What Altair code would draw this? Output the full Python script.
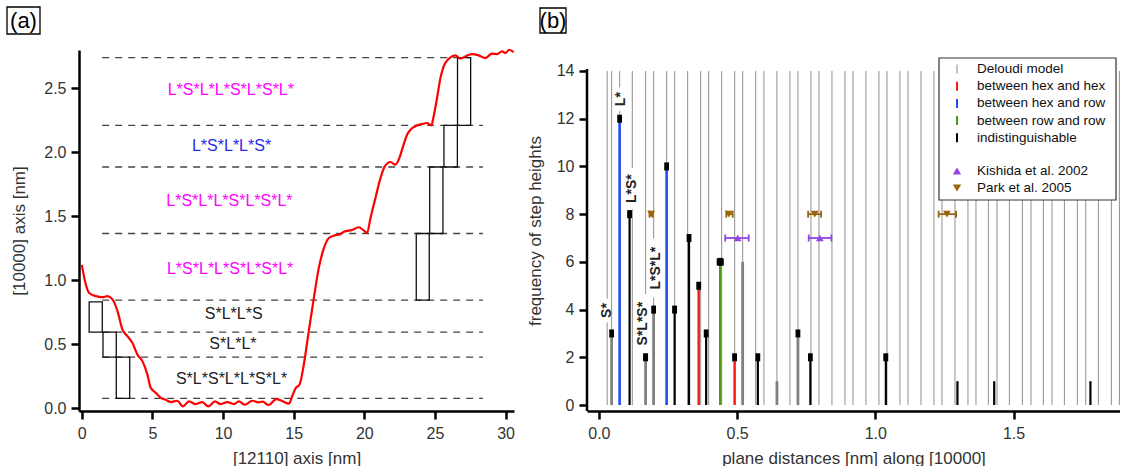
import altair as alt
import pandas as pd

FONT = "Liberation Sans"
TXT = "#333333"

# ---------------- (a) height profile across the terraces ----------------
profile_x = [0.0, 0.23, 0.52, 0.99, 1.46, 1.81, 2.17, 2.52, 2.87, 3.23, 3.58, 3.93, 4.29, 4.64,
             4.88, 5.23, 5.59, 5.94, 6.29, 6.76, 7.16, 7.59, 8.06, 8.53, 8.95, 9.43, 9.83, 10.30,
             10.77, 11.12, 11.55, 12.07, 12.50, 12.80, 13.22, 13.78, 14.19, 14.66, 14.90, 15.13,
             15.42, 15.72, 16.07, 16.43, 16.78, 17.14, 17.49, 17.96, 18.31, 18.55, 19.14, 19.61,
             19.97, 20.20, 20.44, 20.79, 21.15, 21.45, 21.85, 22.20, 22.44, 22.67, 23.03, 23.27,
             23.62, 24.09, 24.44, 24.75, 24.91, 25.15, 25.39, 25.62, 25.98, 26.45, 26.80, 27.16,
             27.62, 28.10, 28.57, 29.04, 29.40, 29.75, 29.99, 30.27, 30.57]
profile_y = [1.12, 0.99, 0.90, 0.875, 0.867, 0.875, 0.85, 0.76, 0.615, 0.562, 0.51, 0.42, 0.367,
             0.263, 0.159, 0.12, 0.08, 0.065, 0.047, 0.057, 0.013, 0.052, 0.031, 0.047, 0.013,
             0.052, 0.031, 0.047, 0.031, 0.052, 0.026, 0.057, 0.045, 0.05, 0.024, 0.07, 0.055,
             0.034, 0.094, 0.154, 0.185, 0.341, 0.602, 0.862, 1.096, 1.25, 1.33, 1.352, 1.36,
             1.378, 1.393, 1.414, 1.388, 1.37, 1.487, 1.643, 1.80, 1.89, 1.924, 1.904, 1.943,
             2.02, 2.138, 2.177, 2.203, 2.221, 2.229, 2.211, 2.281, 2.424, 2.58, 2.672, 2.732,
             2.758, 2.732, 2.75, 2.768, 2.758, 2.737, 2.771, 2.768, 2.789, 2.776, 2.802, 2.784]

# terrace levels (dashed) and their horizontal extent
level_y = [2.74, 2.21, 1.885, 1.365, 0.844, 0.594, 0.398, 0.076]
level_x0 = [1.44, 1.44, 1.44, 1.44, 1.44, 1.44, 1.44, 1.44]
level_x1 = [27.5, 28.4, 28.4, 28.4, 28.4, 28.4, 28.4, 28.4]

# step boxes (staircase of step heights)
box_x1 = [0.52, 1.50, 2.44, 23.68, 24.63, 25.64, 26.60]
box_x2 = [1.45, 2.44, 3.39, 24.60, 25.57, 26.59, 27.53]
box_y1 = [0.594, 0.398, 0.076, 0.844, 1.365, 1.885, 2.21]
box_y2 = [0.830, 0.594, 0.398, 1.365, 1.885, 2.21, 2.74]

# stacking sequences between terraces
seq_text = ["L*S*L*L*S*L*S*L*", "L*S*L*L*S*", "L*S*L*L*S*L*S*L*", "L*S*L*L*S*L*S*L*",
            "S*L*L*S", "S*L*L*", "S*L*S*L*L*S*L*"]
seq_x = [10.55, 10.6, 10.45, 10.5, 10.75, 10.7, 10.6]
seq_y = [2.49, 2.05, 1.617, 1.086, 0.734, 0.50, 0.227]
seq_color = ["#ff00ff", "#2a2ae6", "#ff00ff", "#ff00ff", "#222222", "#222222", "#222222"]

# ---------------- (b) histogram of plane distances ----------------
deloudi_x = [0.030, 0.046, 0.075, 0.121, 0.169, 0.198, 0.245, 0.274, 0.321, 0.368, 0.397, 0.444,
             0.491, 0.520, 0.567, 0.597, 0.644, 0.691, 0.720, 0.767, 0.796, 0.843, 0.890, 0.919,
             0.966, 1.013, 1.042, 1.089, 1.118, 1.165, 1.212, 1.241, 1.288, 1.335, 1.364, 1.409,
             1.440, 1.485, 1.532, 1.563, 1.608, 1.639, 1.684, 1.731, 1.761, 1.807, 1.854, 1.883]
deloudi_top = 14

bar_x = [0.046, 0.075, 0.111, 0.169, 0.198, 0.245, 0.274, 0.326, 0.361, 0.388, 0.439, 0.491,
         0.520, 0.575, 0.644, 0.720, 0.765, 1.038, 1.297, 1.430, 1.778]
bar_n = [3, 12, 8, 2, 4, 10, 4, 7, 5, 3, 6, 2, 6, 2, 1, 3, 2, 2, 1, 1, 1]
bar_kind = ["model", "hex-row", "indist", "model", "model", "hex-row", "indist", "indist",
            "hex-hex", "indist", "row-row", "hex-hex", "model", "indist", "model", "model",
            "indist", "indist", "indist", "indist", "indist"]
bar_err = [0.003, 0.003, 0.003, 0.006, 0.003, 0.003, 0.005, 0.004, 0.003, 0.004, 0.010, 0.004,
           0.0, 0.003, 0.0, 0.004, 0.003, 0.005, 0.0, 0.0, 0.0]

kind_color = {"model": "#808080", "hex-hex": "#ff1a1a", "hex-row": "#1f4ff0",
              "row-row": "#4d9a0c", "indist": "#000000"}
kind_width = {"model": 2.8, "hex-hex": 2.5, "hex-row": 2.6, "row-row": 2.5, "indist": 2.2}

step_text = ["S*", "L*", "L*S*", "S*L*S*", "L*S*L*"]
step_x = [0.028, 0.080, 0.120, 0.158, 0.205]
step_line = [0.030, 0.075, 0.121, 0.169, 0.198]
step_y = [3.96, 12.82, 9.07, 3.41, 5.74]

kishida_x = [0.502, 0.799]
kishida_lo = [0.457, 0.759]
kishida_hi = [0.542, 0.841]
kishida_n = [7, 7]

park_x = [0.189, 0.470, 0.781, 1.259]
park_lo = [0.183, 0.461, 0.757, 1.229]
park_hi = [0.195, 0.484, 0.804, 1.292]
park_n = [8, 8, 8, 8]

legend_text = ["Deloudi model", "between hex and hex", "between hex and row",
               "between row and row", "indistinguishable", "Kishida et al. 2002",
               "Park et al. 2005"]
legend_color = ["#c4c4c4", "#ff1a1a", "#1f4ff0", "#4d9a0c", "#000000", "#9444e6", "#9a6408"]

PURPLE = "#9444e6"
BROWN = "#9a6408"

axis_style = dict(domainColor="black", domainWidth=2.5, tickColor="black", tickWidth=2.5,
                  tickSize=8, labelColor=TXT, titleColor=TXT, labelFont=FONT, titleFont=FONT,
                  labelFontSize=16, titleFontSize=17, titleFontWeight="normal", grid=False,
                  labelFlush=False)

one = pd.DataFrame({"k": [0]})

# ======== panel (a) ========
xa = alt.Scale(domain=[-0.2, 30.6], nice=False, zero=False)
ya = alt.Scale(domain=[-0.023, 2.8], nice=False, zero=False)
xa_axis = alt.Axis(values=[0, 5, 10, 15, 20, 25, 30], format="d", labelPadding=6,
                   titlePadding=9, **axis_style)
ya_axis = alt.Axis(values=[0, 0.5, 1.0, 1.5, 2.0, 2.5], format=".1f", labelPadding=5,
                   titlePadding=15, **axis_style)


def XA(f):
    return alt.X(f, scale=xa, axis=xa_axis, title="[12110] axis [nm]")


def YA(f):
    return alt.Y(f, scale=ya, axis=ya_axis, title="[10000] axis [nm]")


prof = pd.DataFrame({"x": profile_x, "y": profile_y})
levels = pd.DataFrame({"y": level_y, "x0": level_x0, "x1": level_x1})
boxes = pd.DataFrame({"x1": box_x1, "x2": box_x2, "y1": box_y1, "y2": box_y2})
seqs = pd.DataFrame({"t": seq_text, "x": seq_x, "y": seq_y, "c": seq_color})

curve = alt.Chart(prof).mark_line(color="#ff0000", strokeWidth=2.2,
                                  interpolate="monotone").encode(x=XA("x:Q"), y=YA("y:Q"))
dashes = alt.Chart(levels).mark_rule(color="#444444", strokeWidth=1.3, strokeDash=[7, 6]).encode(
    x=XA("x0:Q"), x2="x1:Q", y=YA("y:Q"))
rects = alt.Chart(boxes).mark_rect(fillOpacity=0, stroke="#111111", strokeWidth=1.3).encode(
    x=XA("x1:Q"), x2="x2:Q", y=YA("y1:Q"), y2="y2:Q")
seq_lbl = alt.Chart(seqs).mark_text(font=FONT, fontSize=16, baseline="middle").encode(
    x=XA("x:Q"), y=YA("y:Q"), text="t:N", color=alt.Color("c:N", scale=None))
tag_a_box = alt.Chart(one).mark_rect(fillOpacity=0, stroke="black", strokeWidth=1.3).encode(
    x=alt.value(-72), x2=alt.value(-39), y=alt.value(-43), y2=alt.value(-16))
tag_a = alt.Chart(one).mark_text(font=FONT, fontSize=22, color="black", baseline="middle",
                                 align="center", text="(a)").encode(
    x=alt.value(-55.5), y=alt.value(-29.5))

panel_a = alt.layer(dashes, rects, curve, seq_lbl, tag_a_box, tag_a).properties(
    width=435, height=361)

# ======== panel (b) ========
xb = alt.Scale(domain=[-0.043, 1.885], nice=False, zero=False)
yb = alt.Scale(domain=[-0.25, 14.88], nice=False, zero=False)
xb_axis = alt.Axis(values=[0.0, 0.5, 1.0, 1.5], format=".1f", labelPadding=6,
                   titlePadding=9, **axis_style)
yb_style = dict(axis_style)
yb_style["domain"] = False
yb_axis = alt.Axis(values=list(range(0, 15, 2)), format="d", labelPadding=5,
                   titlePadding=12, **yb_style)


def XB(f):
    return alt.X(f, scale=xb, axis=xb_axis, title="plane distances [nm] along [10000]")


def YB(f):
    return alt.Y(f, scale=yb, axis=yb_axis, title="frequency of step heights")


lines = pd.DataFrame({"x": deloudi_x})
lines["lo"] = 0
lines["hi"] = deloudi_top
bars = pd.DataFrame({"x": bar_x, "n": bar_n, "kind": bar_kind, "err": bar_err})
bars["base"] = 0
caps = bars[bars["err"] > 0].copy()
caps["lo"] = caps["x"] - caps["err"]
caps["hi"] = caps["x"] + caps["err"]

steps = pd.DataFrame({"t": step_text, "x": step_x, "line": step_line, "y": step_y})
half = (steps["t"].str.len() * 4.4 + 3.0) / 23.8
steps["y0"] = steps["y"] - half
steps["y1"] = steps["y"] + half
steps["l0"] = steps["line"] - 0.007
steps["l1"] = steps["line"] + 0.007

kis = pd.DataFrame({"x": kishida_x, "lo": kishida_lo, "hi": kishida_hi, "n": kishida_n})
par = pd.DataFrame({"x": park_x, "lo": park_lo, "hi": park_hi, "n": park_n})

# vertical axis line of (b), spanning from the x axis up to just above 14
yline = pd.DataFrame({"lo": [-0.25], "hi": [14.08]})
y_domain_line = alt.Chart(yline).mark_rule(color="black", strokeWidth=2.5).encode(
    x=alt.value(0), y=YB("lo:Q"), y2="hi:Q")

model_lines = alt.Chart(lines).mark_rule(color="#9a9a9a", strokeWidth=1.1).encode(
    x=XB("x:Q"), y=YB("lo:Q"), y2="hi:Q")
step_bg = alt.Chart(steps).mark_rect(color="white").encode(
    x=XB("l0:Q"), x2="l1:Q", y=YB("y0:Q"), y2="y1:Q")
step_lbl = alt.Chart(steps).mark_text(font=FONT, fontSize=14, fontWeight="bold", angle=270,
                                      color="#222222", baseline="middle").encode(
    x=XB("x:Q"), y=YB("y:Q"), text="t:N")

bar_layers = []
for kind in ["model", "hex-hex", "hex-row", "row-row", "indist"]:
    sub = bars[bars["kind"] == kind]
    bar_layers.append(alt.Chart(sub).mark_rule(color=kind_color[kind],
                                               strokeWidth=kind_width[kind]).encode(
        x=XB("x:Q"), y=YB("base:Q"), y2="n:Q"))

cap_whisk = alt.Chart(caps).mark_rule(color="black", strokeWidth=1.5).encode(
    x=XB("lo:Q"), x2="hi:Q", y=YB("n:Q"))
cap_end_lo = alt.Chart(caps).mark_point(shape="M0,-1L0,1", filled=False, color="black",
                                        strokeWidth=1.6, size=49, opacity=1).encode(
    x=XB("lo:Q"), y=YB("n:Q"))
cap_end_hi = alt.Chart(caps).mark_point(shape="M0,-1L0,1", filled=False, color="black",
                                        strokeWidth=1.6, size=49, opacity=1).encode(
    x=XB("hi:Q"), y=YB("n:Q"))
cap_block = alt.Chart(caps).mark_point(shape="M-0.6,-1H0.6V1H-0.6Z", filled=True,
                                       color="black", size=64, opacity=1).encode(
    x=XB("x:Q"), y=YB("n:Q"))


def ref_layers(df, color, shape):
    whisk = alt.Chart(df).mark_rule(color=color, strokeWidth=1.8).encode(
        x=XB("lo:Q"), x2="hi:Q", y=YB("n:Q"))
    e_lo = alt.Chart(df).mark_point(shape="M0,-1L0,1", filled=False, color=color,
                                    strokeWidth=1.8, size=49, opacity=1).encode(
        x=XB("lo:Q"), y=YB("n:Q"))
    e_hi = alt.Chart(df).mark_point(shape="M0,-1L0,1", filled=False, color=color,
                                    strokeWidth=1.8, size=49, opacity=1).encode(
        x=XB("hi:Q"), y=YB("n:Q"))
    mk = alt.Chart(df).mark_point(shape=shape, filled=True, color=color, size=60,
                                  opacity=1).encode(x=XB("x:Q"), y=YB("n:Q"))
    return [whisk, e_lo, e_hi, mk]


# legend drawn inside the plot area (pixel layout)
leg_box = alt.Chart(one).mark_rect(fill="white", stroke="#333333", strokeWidth=1.2).encode(
    x=alt.value(352), x2=alt.value(529), y=alt.value(8), y2=alt.value(150))
leg_layers = [leg_box]
row_y = [19.0, 36.2, 53.4, 70.6, 87.8, 121.0, 138.0]
for i, (lab, col) in enumerate(zip(legend_text, legend_color)):
    yy = row_y[i]
    if i < 5:
        leg_layers.append(alt.Chart(one).mark_rule(color=col, strokeWidth=2).encode(
            x=alt.value(370), y=alt.value(yy - 4.5), y2=alt.value(yy + 4.5)))
    else:
        shp = "triangle-up" if i == 5 else "triangle-down"
        leg_layers.append(alt.Chart(one).mark_point(shape=shp, filled=True, color=col,
                                                    size=70, opacity=1).encode(
            x=alt.value(370), y=alt.value(yy)))
    leg_layers.append(alt.Chart(one).mark_text(font=FONT, fontSize=13.5, color="#111111",
                                               align="left", baseline="middle",
                                               text=lab).encode(
        x=alt.value(390), y=alt.value(yy)))

tag_b_box = alt.Chart(one).mark_rect(fillOpacity=0, stroke="black", strokeWidth=1.3).encode(
    x=alt.value(-47), x2=alt.value(-21), y=alt.value(-42), y2=alt.value(-17))
tag_b = alt.Chart(one).mark_text(font=FONT, fontSize=22, color="black", baseline="middle",
                                 align="center", text="(b)").encode(
    x=alt.value(-34), y=alt.value(-29.5))

panel_b = alt.layer(
    model_lines, step_bg, step_lbl, *bar_layers, cap_whisk, cap_end_lo, cap_end_hi, cap_block,
    *ref_layers(kis, PURPLE, "triangle-up"), *ref_layers(par, BROWN, "triangle-down"),
    *leg_layers, y_domain_line, tag_b_box, tag_b,
).properties(width=533, height=361)

chart = alt.hconcat(panel_a, panel_b, spacing=8).properties(
    padding={"left": 6, "top": 6, "right": 0, "bottom": 0},
    background="white",
).configure_view(stroke=None)

chart.save("out.html", embed_options={"renderer": "svg", "actions": False})
